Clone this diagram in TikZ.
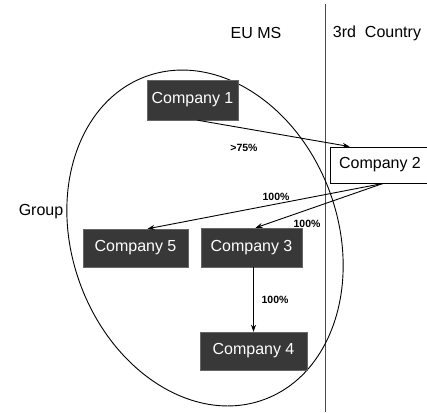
\documentclass[tikz,border=0pt]{standalone}
\usepackage{fontspec}
\setmainfont{Liberation Sans}
\usetikzlibrary{arrows.meta}
\begin{document}
\begin{tikzpicture}[x=1pt,y=-1pt,
  darkbox/.style={fill=black!78, draw=black!60, text=white, inner sep=0pt,
    font=\fontsize{16}{18}\selectfont},
  lightbox/.style={fill=white, draw=black, line width=0.9pt, inner sep=0pt,
    font=\fontsize{16}{18}\selectfont},
  plain/.style={font=\fontsize{16}{18}\selectfont, inner sep=0pt},
  pct/.style={font=\fontsize{10.5}{12}\selectfont\bfseries, inner sep=0pt},
  link/.style={line width=0.9pt, -{Stealth[length=7pt,width=5pt]}}]
\useasboundingbox (0,0) rectangle (427,412);

% border between member state and third country
\coordinate (topB) at (325,4);
\coordinate (botB) at (325,412);
\draw[line width=1pt, black!70] (topB) -- (botB);

% group boundary
\coordinate (gc) at (205,238);
\draw[line width=0.9pt] (gc) ellipse [x radius=133pt, y radius=172pt, rotate=20];

% headings
\node[plain] (eu) at (256,33) {EU MS};
\node[plain] (third) at (377,33) {3rd\ \ Country};
\node[plain] (grp) at (41,212) {Group};

% companies
\node[darkbox, minimum width=91pt, minimum height=40pt] (c1) at (192.5,100) {Company 1};
\node[lightbox, minimum width=100pt, minimum height=36pt] (c2) at (380,165) {Company 2};
\node[darkbox, minimum width=105pt, minimum height=38pt] (c5) at (135.5,248) {Company 5};
\node[darkbox, minimum width=101pt, minimum height=39pt] (c3) at (251.5,247.5) {Company 3};
\node[darkbox, minimum width=107pt, minimum height=38pt] (c4) at (253.5,351) {Company 4};

% shareholdings
\draw[link] ([xshift=5pt]c1.south) -- ([xshift=20pt]c2.north west);
\draw[link] ([xshift=3pt]c2.south) -- ([xshift=12pt]c5.north);
\draw[link] ([xshift=3pt]c2.south) -- ([xshift=4pt]c3.north);
\draw[link] (c4.north |- c3.south) -- (c4.north);

\node[pct] (p1) at (244,148) {>75\%};
\node[pct] (p2) at (276,197) {100\%};
\node[pct] (p3) at (307,224) {100\%};
\node[pct] (p4) at (275,300) {100\%};
\end{tikzpicture}
\end{document}
